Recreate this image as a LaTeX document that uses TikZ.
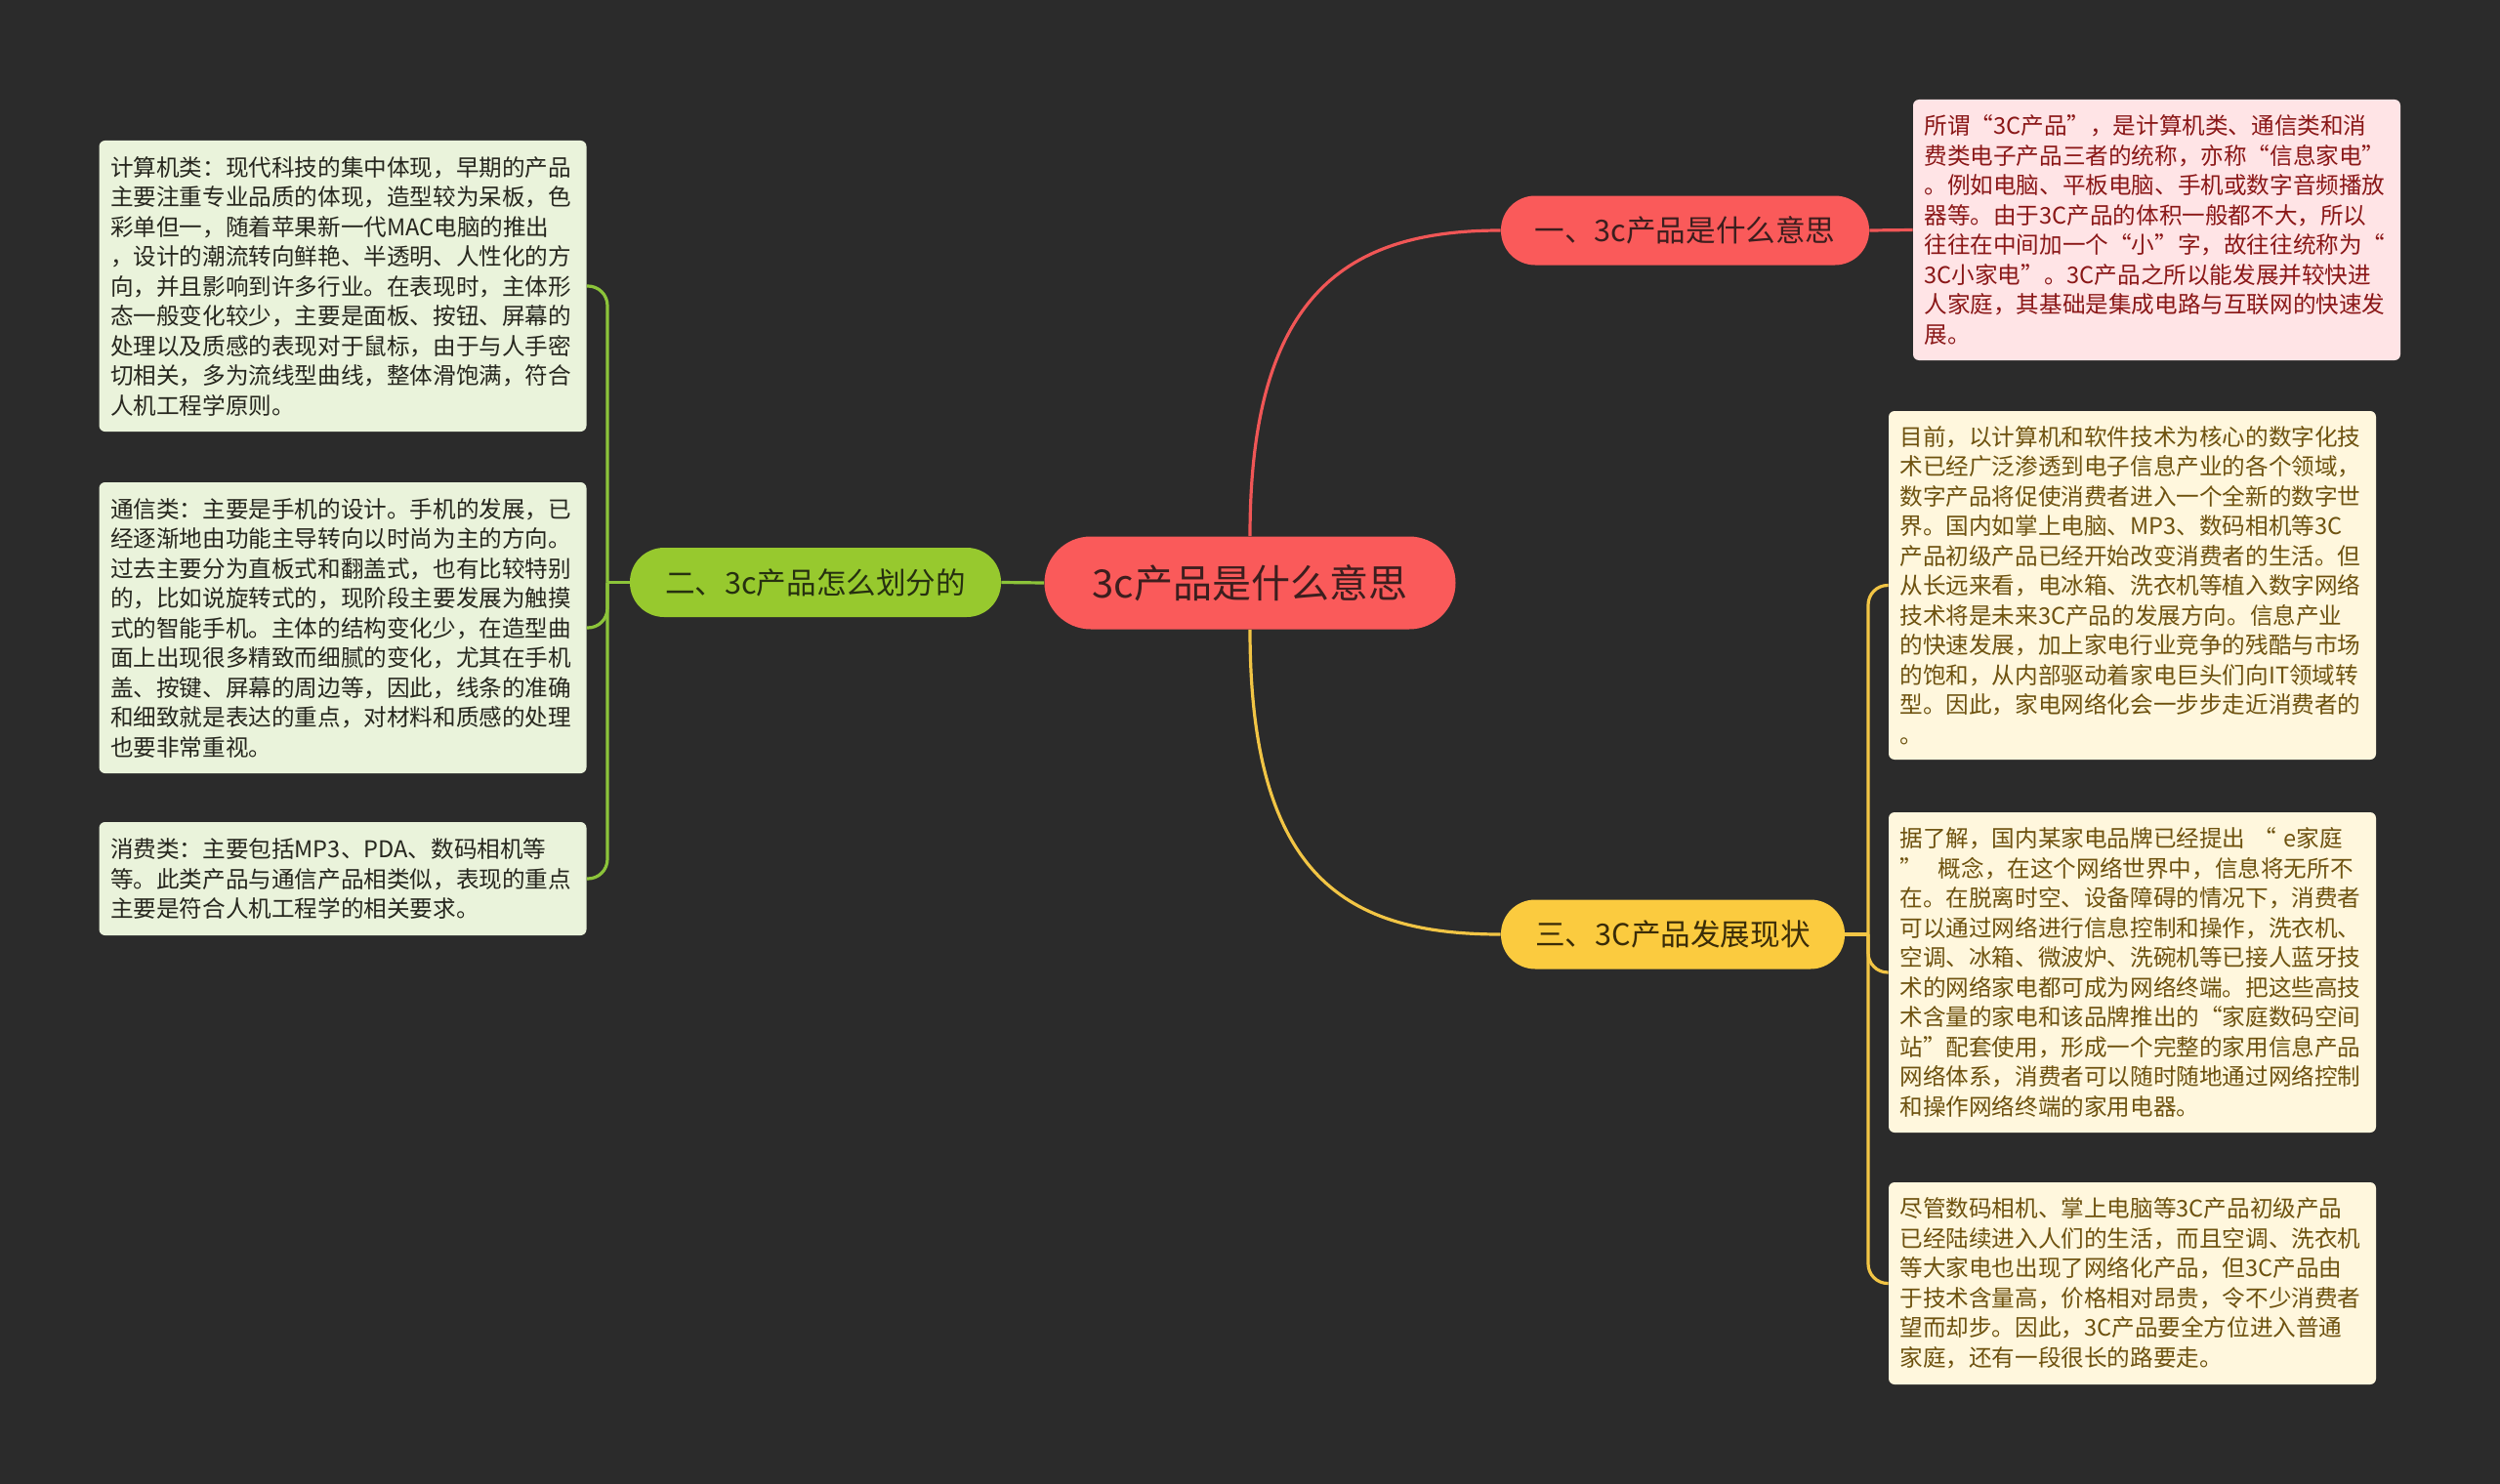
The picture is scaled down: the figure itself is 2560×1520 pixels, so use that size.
\documentclass[tikz,border=0pt]{standalone}
\usepackage{fontspec}
\newfontfamily\cjk{Noto Sans CJK SC}
\usepackage{xcolor}
\definecolor{bgc}{HTML}{2B2B2B}
\definecolor{redfill}{HTML}{FA5A5A}
\definecolor{redline}{HTML}{F05656}
\definecolor{rednote}{HTML}{FFE4E6}
\definecolor{redink}{HTML}{3C1E1E}
\definecolor{rednoteink}{HTML}{8A1717}
\definecolor{grnfill}{HTML}{97C92E}
\definecolor{grnline}{HTML}{8CC43A}
\definecolor{grnnote}{HTML}{EAF3DB}
\definecolor{grnink}{HTML}{263010}
\definecolor{grnnoteink}{HTML}{26261E}
\definecolor{ylwfill}{HTML}{FBCB3F}
\definecolor{ylwline}{HTML}{F2C545}
\definecolor{ylwnote}{HTML}{FFF7DD}
\definecolor{ylwink}{HTML}{3A2C08}
\definecolor{ylwnoteink}{HTML}{6E520F}

\begin{document}
\begin{tikzpicture}[x=0.5pt,y=-0.5pt,
  topic/.style={fill=redfill,text=redink,rounded corners=23.75pt,minimum width=210.5pt,minimum height=47.5pt,font=\cjk\fontsize{20pt}{24pt}\selectfont},
  branch/.style={rounded corners=17.5pt,minimum height=35.5pt,font=\cjk\fontsize{15.3pt}{18pt}\selectfont},
  note/.style={rounded corners=3pt,text width=238pt,inner xsep=5.75pt,inner ysep=0pt,align=left,font=\cjk\fontsize{11.8pt}{15.25pt}\selectfont},
  rnote/.style={note,fill=rednote,text=rednoteink},
  gnote/.style={note,fill=grnnote,text=grnnoteink},
  ynote/.style={note,fill=ylwnote,text=ylwnoteink},
  link/.style={line width=1.6pt},
  spine/.style={link,rounded corners=10pt}]
\fill[bgc] (0,0) rectangle (2560,1520);

\node[topic] (c) at (1280,597) {3c产品是什么意思};
\node[branch,fill=redfill,text=redink,minimum width=188.5pt] (b1) at (1725.5,236) {一、3c产品是什么意思};
\node[branch,fill=grnfill,text=grnink,minimum width=190pt] (b2) at (835,596.5) {二、3c产品怎么划分的};
\node[branch,fill=ylwfill,text=ylwink,minimum width=176pt] (b3) at (1713,957) {三、3C产品发展现状};

\node[rnote,minimum height=133.5pt] (r1) at (2208.5,235.5) {所谓“3C产品”，是计算机类、通信类和消\\费类电子产品三者的统称，亦称“信息家电”\\。例如电脑、平板电脑、手机或数字音频播放\\器等。由于3C产品的体积一般都不大，所以\\往往在中间加一个“小”字，故往往统称为“\\3C小家电”。3C产品之所以能发展并较快进\\人家庭，其基础是集成电路与互联网的快速发\\展。};

\node[gnote,minimum height=149pt] (g1) at (351,293) {计算机类：现代科技的集中体现，早期的产品\\主要注重专业品质的体现，造型较为呆板，色\\彩单但一，随着苹果新一代MAC电脑的推出\\，设计的潮流转向鲜艳、半透明、人性化的方\\向，并且影响到许多行业。在表现时，主体形\\态一般变化较少，主要是面板、按钮、屏幕的\\处理以及质感的表现对于鼠标，由于与人手密\\切相关，多为流线型曲线，整体滑饱满，符合\\人机工程学原则。};
\node[gnote,minimum height=149pt] (g2) at (351,643) {通信类：主要是手机的设计。手机的发展，已\\经逐渐地由功能主导转向以时尚为主的方向。\\过去主要分为直板式和翻盖式，也有比较特别\\的，比如说旋转式的，现阶段主要发展为触摸\\式的智能手机。主体的结构变化少，在造型曲\\面上出现很多精致而细腻的变化，尤其在手机\\盖、按键、屏幕的周边等，因此，线条的准确\\和细致就是表达的重点，对材料和质感的处理\\也要非常重视。};
\node[gnote,minimum height=58pt] (g3) at (351,900) {消费类：主要包括MP3、PDA、数码相机等\\等。此类产品与通信产品相类似，表现的重点\\主要是符合人机工程学的相关要求。};

\node[ynote,minimum height=178.5pt] (y1) at (2183.5,599.5) {目前，以计算机和软件技术为核心的数字化技\\术已经广泛渗透到电子信息产业的各个领域，\\数字产品将促使消费者进入一个全新的数字世\\界。国内如掌上电脑、MP3、数码相机等3C\\产品初级产品已经开始改变消费者的生活。但\\从长远来看，电冰箱、洗衣机等植入数字网络\\技术将是未来3C产品的发展方向。信息产业\\的快速发展，加上家电行业竞争的残酷与市场\\的饱和，从内部驱动着家电巨头们向IT领域转\\型。因此，家电网络化会一步步走近消费者的\\。};
\node[ynote,minimum height=164pt] (y2) at (2183.5,996) {据了解，国内某家电品牌已经提出~“~e家庭\\”~~概念，在这个网络世界中，信息将无所不\\在。在脱离时空、设备障碍的情况下，消费者\\可以通过网络进行信息控制和操作，洗衣机、\\空调、冰箱、微波炉、洗碗机等已接人蓝牙技\\术的网络家电都可成为网络终端。把这些高技\\术含量的家电和该品牌推出的“家庭数码空间\\站”配套使用，形成一个完整的家用信息产品\\网络体系，消费者可以随时随地通过网络控制\\和操作网络终端的家用电器。};
\node[ynote,minimum height=103.5pt] (y3) at (2183.5,1314.5) {尽管数码相机、掌上电脑等3C产品初级产品\\已经陆续进入人们的生活，而且空调、洗衣机\\等大家电也出现了网络化产品，但3C产品由\\于技术含量高，价格相对昂贵，令不少消费者\\望而却步。因此，3C产品要全方位进入普通\\家庭，还有一段很长的路要走。};

\coordinate (gs) at (622,596.5);
\coordinate (ys) at (1913,957);

\draw[link,redline] (c.north) .. controls (1280,300) and (1380,236) .. (b1.west);
\draw[link,redline] (b1.east) -- (r1.west);
\draw[link,grnline] (c.west) -- (b2.east);
\draw[link,grnline] (b2.west) -- (gs);
\foreach \n in {g1,g2,g3}
  \draw[spine,grnline] (gs) |- (\n.east);
\draw[link,ylwline] (c.south) .. controls (1280,900) and (1380,957) .. (b3.west);
\draw[link,ylwline] (b3.east) -- (ys);
\foreach \n in {y1,y2,y3}
  \draw[spine,ylwline] (ys) |- (\n.west);
\end{tikzpicture}
\end{document}
